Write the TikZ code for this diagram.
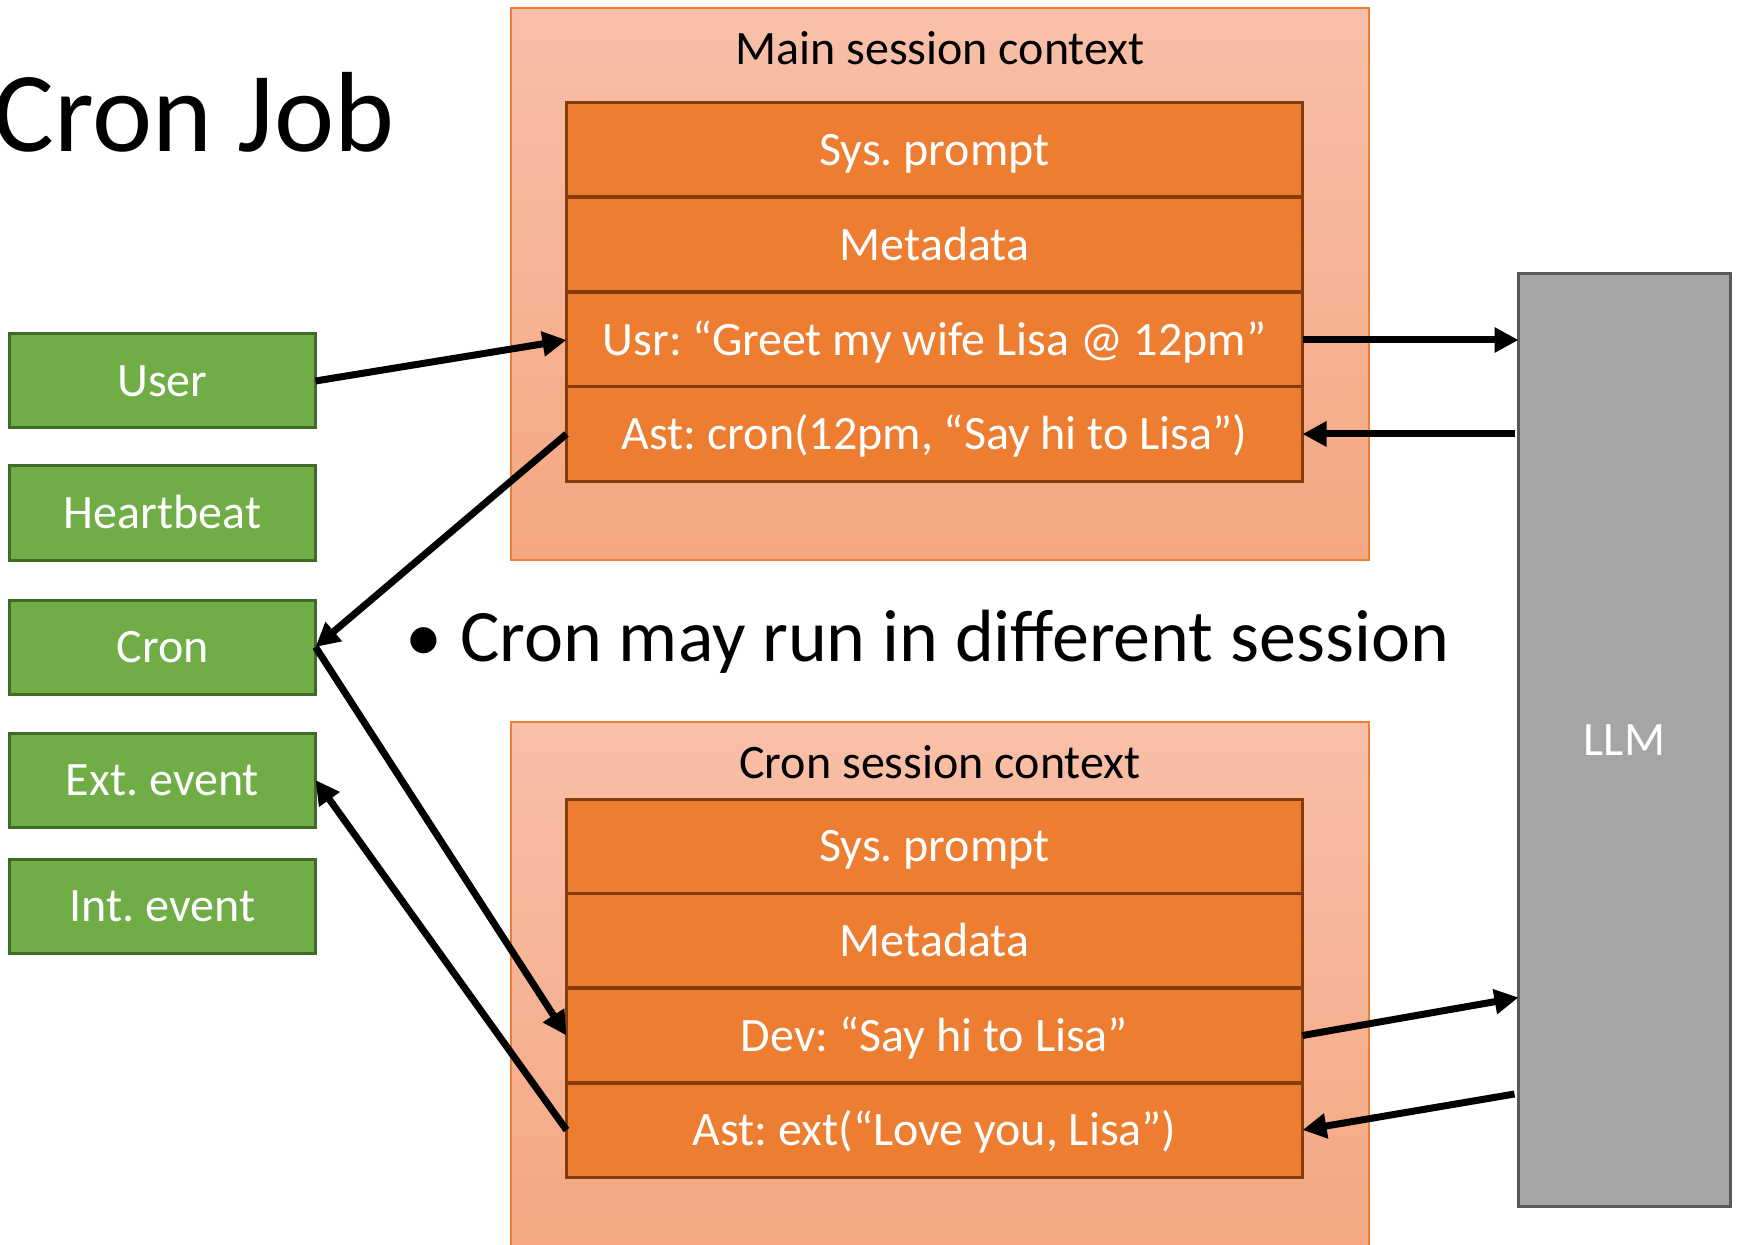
\documentclass[tikz,border=0pt]{standalone}
\usepackage{fontspec}
\setmainfont{Carlito}
\usetikzlibrary{arrows.meta,calc}

\definecolor{rowfill}{HTML}{ED7D31}
\definecolor{rowline}{HTML}{843C0C}
\definecolor{ctxtop}{HTML}{F8BFA8}
\definecolor{ctxbottom}{HTML}{F5A782}
\definecolor{srcfill}{HTML}{70AD47}
\definecolor{srcline}{HTML}{3E6B26}
\definecolor{llmfill}{HTML}{A5A5A5}
\definecolor{llmline}{HTML}{595959}

\tikzset{
  ctxbox/.style={draw=rowfill, line width=0.6pt, top color=ctxtop, bottom color=ctxbottom},
  rowbox/.style={draw=rowline, fill=rowfill, line width=1.5pt, text=white,
    minimum width=368pt, minimum height=47pt, inner sep=0pt, outer sep=0pt,
    text height=15.5pt, text depth=0pt,
    font=\fontsize{24}{28}\selectfont},
  srcbox/.style={draw=srcline, fill=srcfill, line width=1.5pt, text=white,
    minimum width=153pt, minimum height=47pt, inner sep=0pt, outer sep=0pt,
    text height=15.5pt, text depth=0pt,
    font=\fontsize{24}{28}\selectfont},
  flow/.style={line width=3.5pt, -{Triangle[length=12pt,width=12pt]}}
}

\begin{document}
\frenchspacing
\begin{tikzpicture}[x=0.5pt, y=-0.5pt]

    % Fix the page size
    \useasboundingbox (0,0) rectangle (1738,1245);

    % Title
    \node[anchor=base west, inner sep=0pt, font=\fontsize{57}{60}\selectfont] (title) at (-7,152) {Cron Job};

    % Main session context
    \path[ctxbox] (511,8) rectangle (1369,560);
    \node[font=\fontsize{24}{27}\selectfont] (mainctx) at (940,48) {Main session context};
    \node[rowbox] (mrow1) at (934.5,150) {Sys. prompt};
    \node[rowbox] (mrow2) at (934.5,245) {Metadata};
    \node[rowbox] (mrow3) at (934.5,340) {Usr: “Greet my wife Lisa @ 12pm”};
    \node[rowbox] (mrow4) at (934.5,434) {Ast: cron(12pm, “Say hi to Lisa”)};

    % Cron session context
    \path[ctxbox] (511,722) rectangle (1369,1260);
    \node[font=\fontsize{24}{27}\selectfont] (cronctx) at (940,762) {Cron session context};
    \node[rowbox] (crow1) at (934.5,846) {Sys. prompt};
    \node[rowbox] (crow2) at (934.5,940.5) {Metadata};
    \node[rowbox] (crow3) at (934.5,1035.5) {Dev: “Say hi to Lisa”};
    \node[rowbox] (crow4) at (934.5,1130) {Ast: ext(“Love you, Lisa”)};

    % Event sources
    \node[srcbox] (user) at (162.5,381) {User};
    \node[srcbox] (heart) at (162.5,513) {Heartbeat};
    \node[srcbox] (cron) at (162.5,647) {Cron};
    \node[srcbox] (ext) at (162.5,780) {Ext. event};
    \node[srcbox] (int) at (162.5,906) {Int. event};

    % LLM
    \node[draw=llmline, fill=llmfill, line width=1.5pt, text=white, minimum width=106pt,
      minimum height=466pt, inner sep=0pt, outer sep=0pt,
      font=\fontsize{24}{28}\selectfont] (llm) at (1624.5,740) {LLM};

    % Bullet text
    \node[anchor=west, inner sep=0pt, font=\fontsize{37}{42}\selectfont] (note) at (405,642)
      {\textbullet\hspace{9pt}Cron may run in different session};

    % Points on the LLM side
    \coordinate (mret) at ($(llm.west |- mrow4.east)+(-4,0)$);
    \coordinate (cin) at ($(llm.west |- crow3.east)+(0,-38)$);
    \coordinate (cout) at ($(llm.west |- crow4.east)+(-4,-36)$);

    % Arrows between sources and contexts
    \draw[flow] (user.east) -- (mrow3.west);
    \draw[flow] (mrow4.west) -- (cron.east);
    \draw[flow] (cron.east) -- (crow3.west);
    \draw[flow] (crow4.west) -- (ext.east);

    % Arrows to and from the LLM
    \draw[flow] (mrow3.east) -- (mrow3.east -| llm.west);
    \draw[flow] (mret) -- (mrow4.east);
    \draw[flow] (crow3.east) -- (cin);
    \draw[flow] (cout) -- (crow4.east);

\end{tikzpicture}
\end{document}
